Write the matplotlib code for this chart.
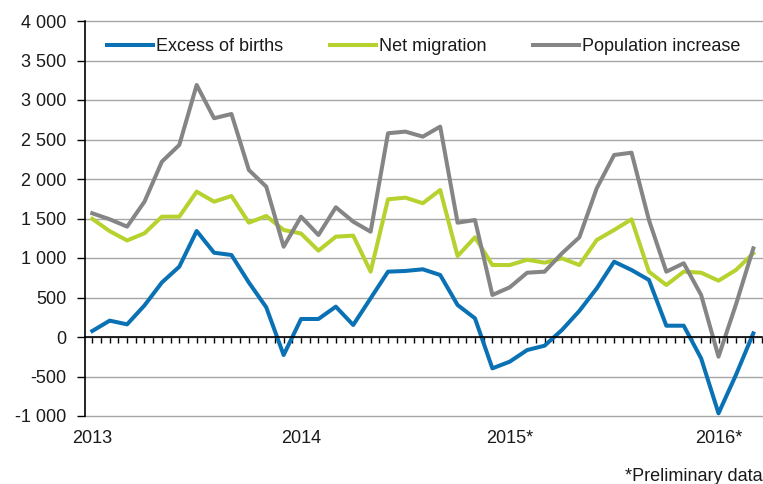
import numpy as np
import matplotlib
matplotlib.use("Agg")
import matplotlib.pyplot as plt
from matplotlib.ticker import FuncFormatter

plt.rcParams['font.family'] = ['Liberation Sans', 'DejaVu Sans']

excess_births = [76, 207, 160, 400, 690, 890, 1342, 1067, 1038, 690, 376, -228,
                 228, 228, 384, 152, 490, 827, 836, 857, 785, 405, 236, -397,
                 -312, -165, -110, 89, 330, 616, 953, 848, 722, 143, 143, -270,
                 -966, -481, 46]
net_migration = [1495, 1340, 1222, 1313, 1523, 1523, 1840, 1713, 1785, 1447, 1532, 1355,
                 1310, 1093, 1270, 1283, 827, 1743, 1764, 1693, 1861, 1025, 1262, 911,
                 911, 978, 941, 996, 911, 1228, 1355, 1490, 827, 658, 827, 814,
                 713, 848, 1059]
population_increase = [1566, 1490, 1397, 1713, 2220, 2431, 3190, 2769, 2823, 2114, 1903, 1143,
                       1523, 1291, 1642, 1460, 1333, 2579, 2600, 2536, 2663, 1447, 1481, 532,
                       629, 814, 827, 1059, 1262, 1883, 2304, 2333, 1480, 827, 933, 532,
                       -249, 410, 1122]
year_labels = ["2013", "2014", "2015*", "2016*"]
year_pos = [0, 12, 24, 36]

x = np.arange(len(excess_births))
FS = 13

fig = plt.figure(figsize=(7.63, 4.84), dpi=100)
ax = fig.add_axes([85/763, 1-416/484, (762-85)/763, (416-21)/484])

ax.set_ylim(-1000, 4000)
ax.set_xlim(-0.42, 38.5)
ax.set_yticks(np.arange(-1000, 4001, 500))
ax.yaxis.grid(True, color='#a6a6a6', linewidth=1.0)
for gl in ax.yaxis.get_gridlines():
    gl.set_clip_on(False)
ax.set_axisbelow(True)

ax.plot(x, excess_births, color='#0a72b4', lw=2.9, label='Excess of births')
ax.plot(x, net_migration, color='#b5d22e', lw=2.9, label='Net migration')
ax.plot(x, population_increase, color='#858585', lw=2.9, label='Population increase')

for s in ['top', 'right']:
    ax.spines[s].set_visible(False)
ax.spines['bottom'].set_position(('data', 0))
ax.spines['bottom'].set_color('black')
ax.spines['left'].set_color('black')
ax.spines['bottom'].set_linewidth(1.2)
ax.spines['left'].set_linewidth(1.2)

ax.set_xticks(np.arange(0, 38.6, 0.5))
ax.set_xticklabels([])
ax.tick_params(axis='x', direction='out', length=4, width=1, color='black')
ax.tick_params(axis='y', direction='out', length=5.8, width=1, color='black',
               labelsize=FS, pad=7.5, labelcolor='#1a1a1a')

ax.yaxis.set_major_formatter(FuncFormatter(lambda v, p: ('-' if v < 0 else '') + f"{abs(int(v)):,}".replace(',', ' ')))

for pos, lab in zip(year_pos, year_labels):
    ax.annotate(lab, xy=(pos, -1000), xytext=(0, -14), textcoords='offset pixels',
                ha='center', va='top', fontsize=FS, color='#1a1a1a')

fig.text(763/763, 1-481/484, '*Preliminary data', ha='right', va='baseline', fontsize=FS, color='#1a1a1a')

ax.legend(loc='center', bbox_to_anchor=(0.5, 0.935), ncol=3, frameon=False, fontsize=FS,
          handlelength=2.55, handletextpad=0.15, columnspacing=2.6, labelcolor='#1a1a1a')

fig.savefig('out.png', dpi=100)
